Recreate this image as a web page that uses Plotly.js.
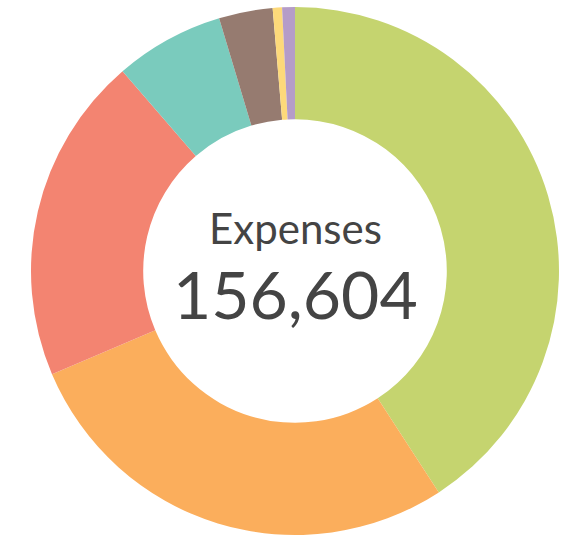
<!DOCTYPE html>
<html>
<head>
<meta charset="utf-8">
<script src="https://cdn.plot.ly/plotly-3.0.1.min.js"></script>
<style>html,body{margin:0;padding:0;background:#fff;}#chart{width:571px;height:537px;}</style>
</head>
<body>
<div id="chart"></div>
<script>
const categories = ["Category A", "Category B", "Category C", "Category D", "Category E", "Category F", "Category G"];
const values = [63943, 43501, 31415, 10477, 5153, 893, 1222];
const colors = ["#c5d46f", "#fbae5c", "#f38471", "#7acbbd", "#967b70", "#fdd97a", "#b59cc8"];
const centerLabel = "Expenses";
const totalLabel = "156,604";

const W = 571, H = 537;
const cx = 295, cy = 271, R = 264;

const data = [{
  type: "pie",
  labels: categories,
  values: values,
  hole: 0.575,
  sort: false,
  direction: "clockwise",
  rotation: 0,
  textinfo: "none",
  hoverinfo: "label+value",
  marker: {colors: colors, line: {width: 0}},
  domain: {x: [(cx - R) / W, (cx + R) / W], y: [(H - cy - R) / H, (H - cy + R) / H]},
  showlegend: false
}];

const layout = {
  width: W, height: H,
  margin: {l: 0, r: 0, t: 0, b: 0},
  paper_bgcolor: "#ffffff",
  showlegend: false,
  annotations: [
    {text: centerLabel, x: cx / W, y: 1 - 228 / H, xref: "paper", yref: "paper", showarrow: false,
     font: {family: "Lato, sans-serif", size: 42, color: "#444444"}, xanchor: "center", yanchor: "middle"},
    {text: totalLabel, x: cx / W, y: 1 - 293 / H, xref: "paper", yref: "paper", showarrow: false,
     font: {family: "Lato, sans-serif", size: 66, color: "#444444"}, xanchor: "center", yanchor: "middle"}
  ]
};

Plotly.newPlot("chart", data, layout, {displayModeBar: false, staticPlot: true});
</script>
</body>
</html>
